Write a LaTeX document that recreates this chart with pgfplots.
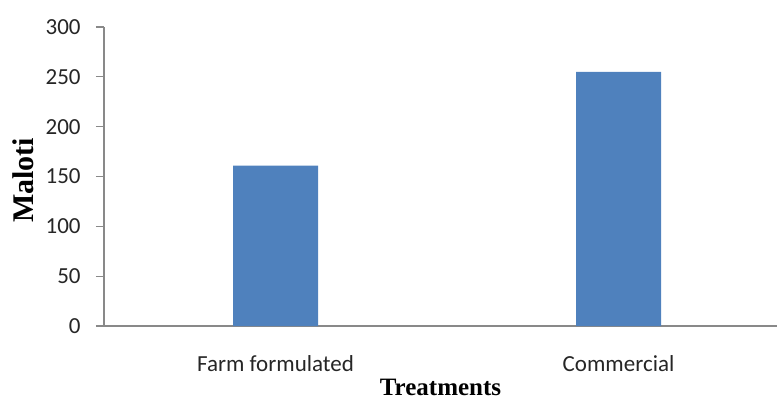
\documentclass[border=0pt]{standalone}
\usepackage{pgfplots}
\pgfplotsset{compat=1.18}
\usepackage{fontspec}
\setmainfont{Carlito}
\newfontfamily\tnr{Liberation Serif}
\definecolor{barblue}{HTML}{4F81BD}
\definecolor{axisgray}{HTML}{898989}
\definecolor{labelgray}{HTML}{262626}
\begin{document}
\begin{tikzpicture}
\begin{axis}[
  scale only axis,
  width=336.5pt, height=149.5pt,
  xmin=-0.5, xmax=1.462,
  ymin=0, ymax=300,
  ytick={0,50,...,300},
  xtick=data,
  xticklabels={Farm formulated, Commercial},
  axis x line*=bottom,
  axis y line*=left,
  axis line style={axisgray, line width=0.6pt, -},
  x axis line style={-},
  y axis line style={-},
  tick align=outside,
  x tick style={draw=none},
  y tick style={axisgray, line width=0.6pt},
  major tick length=4pt,
  /pgf/number format/assume math mode=true,
  tick label style={font=\fontsize{11.5}{13}\selectfont, text=labelgray},
  yticklabel style={inner sep=0pt, anchor=east, xshift=-7.5pt},
  xticklabel style={inner sep=0pt, anchor=north, yshift=-10.8pt},
  ylabel={\tnr\bfseries Maloti},
  ylabel style={at={(axis description cs:-0.1196,0.487)}, anchor=center, inner sep=0pt, font=\fontsize{15}{17}\selectfont},
  xlabel={\tnr\bfseries Treatments},
  xlabel style={at={(axis description cs:0.5,0)}, anchor=north, inner sep=0pt, yshift=-26.5pt, font=\fontsize{12.5}{14}\selectfont},
  ybar,
  bar width=42.5pt,
  clip=false,
]
\addplot[fill=barblue, draw=none] coordinates {(0,161) (1,255)};
\end{axis}
\pgfresetboundingbox
\path[use as bounding box] (-52pt,-38.5pt) rectangle (337pt,163pt);
\end{tikzpicture}
\end{document}
